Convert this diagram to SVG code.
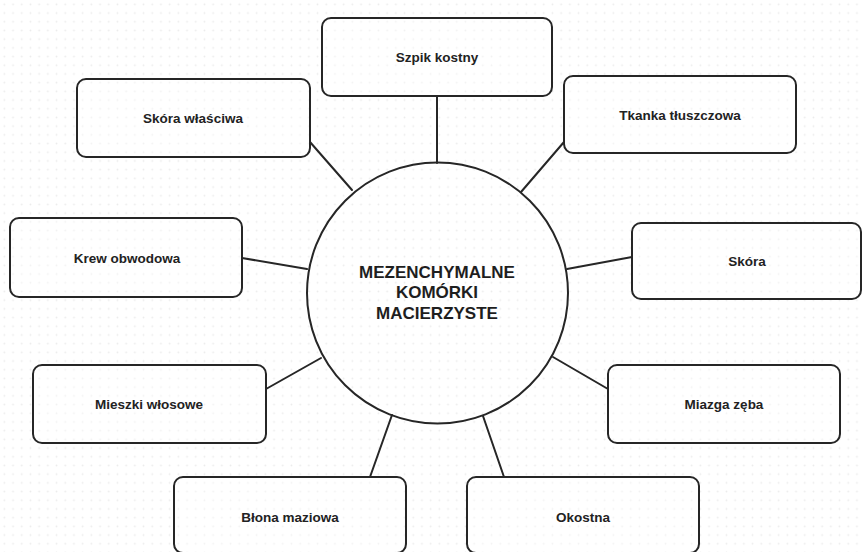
<svg xmlns="http://www.w3.org/2000/svg" width="862" height="552" viewBox="0 0 862 552">
<defs>
<pattern id="dots" x="0" y="0" width="8.7" height="8.7" patternUnits="userSpaceOnUse">
<circle cx="4.35" cy="4.35" r="0.9" fill="#ebebeb"/>
</pattern>
</defs>
<style>
.box{fill:#fff;fill-opacity:0.35;stroke:#262626;stroke-width:2}
.lbl{font-family:"Liberation Sans",Arial,sans-serif;font-weight:bold;font-size:13.5px;fill:#222;text-anchor:middle;dominant-baseline:central}
.big{font-family:"Liberation Sans",Arial,sans-serif;font-weight:bold;font-size:17px;fill:#1e1e1e;text-anchor:middle;dominant-baseline:central}
.conn line{stroke:#262626;stroke-width:2;stroke-linecap:round}
</style>
<rect width="862" height="552" fill="#ffffff"/>
<rect width="862" height="552" fill="url(#dots)"/>
<g id="connectors" class="conn">
<line x1="437" y1="96" x2="437" y2="163"/>
<line x1="310" y1="142" x2="352" y2="190"/>
<line x1="564" y1="142" x2="521" y2="192"/>
<line x1="242" y1="258" x2="307" y2="269"/>
<line x1="632" y1="257" x2="567" y2="269"/>
<line x1="266" y1="389" x2="321" y2="358"/>
<line x1="608" y1="389" x2="553" y2="357"/>
<line x1="370" y1="477" x2="392" y2="415"/>
<line x1="504" y1="477" x2="483" y2="416"/>
</g>
<g id="center">
<circle cx="437.5" cy="293" r="130.5" fill="none" stroke="#262626" stroke-width="2"/>
<text class="big" x="437" y="272">MEZENCHYMALNE</text>
<text class="big" x="437" y="292.5">KOMÓRKI</text>
<text class="big" x="437" y="313">MACIERZYSTE</text>
</g>
<g id="szpik"><rect class="box" x="322" y="18" width="230" height="78" rx="9"/><text class="lbl" x="437" y="57">Szpik kostny</text></g>
<g id="skora-wlasciwa"><rect class="box" x="77" y="79" width="233" height="78" rx="9"/><text class="lbl" x="193" y="118">Skóra właściwa</text></g>
<g id="tkanka"><rect class="box" x="564" y="76" width="232" height="77" rx="9"/><text class="lbl" x="680" y="115">Tkanka tłuszczowa</text></g>
<g id="krew"><rect class="box" x="10" y="218" width="232" height="79" rx="9"/><text class="lbl" x="127" y="258">Krew obwodowa</text></g>
<g id="skora"><rect class="box" x="632" y="223" width="229" height="76" rx="9"/><text class="lbl" x="747" y="261">Skóra</text></g>
<g id="mieszki"><rect class="box" x="33" y="365" width="233" height="78" rx="9"/><text class="lbl" x="149" y="404">Mieszki włosowe</text></g>
<g id="miazga"><rect class="box" x="608" y="365" width="232" height="78" rx="9"/><text class="lbl" x="724" y="404">Miazga zęba</text></g>
<g id="blona"><rect class="box" x="174" y="477" width="232" height="76" rx="9"/><text class="lbl" x="290" y="517">Błona maziowa</text></g>
<g id="okostna"><rect class="box" x="467" y="477" width="232" height="76" rx="9"/><text class="lbl" x="583" y="517">Okostna</text></g>
</svg>
